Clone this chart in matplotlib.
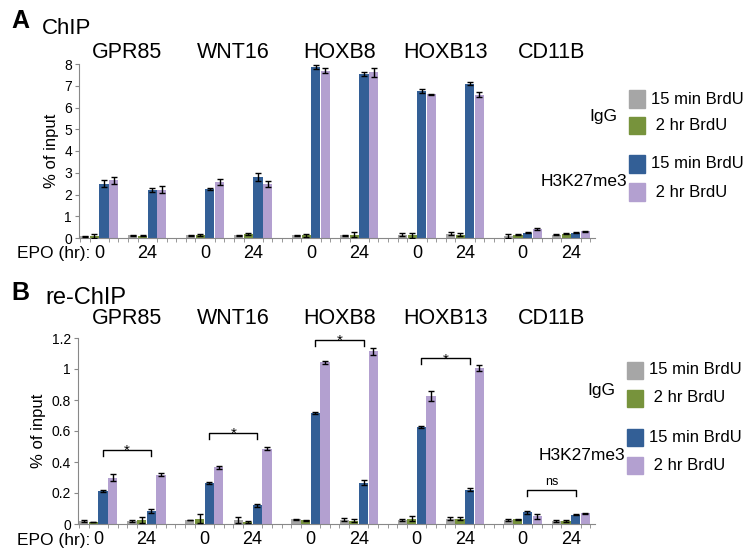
import matplotlib
matplotlib.use('Agg')
import matplotlib.pyplot as plt
from matplotlib.patches import Rectangle

plt.rcParams['font.family'] = ['Liberation Sans', 'DejaVu Sans']

genes = ['GPR85', 'WNT16', 'HOXB8', 'HOXB13', 'CD11B']
epo_labels = ['0', '24']
series_names = ['15 min BrdU', ' 2 hr BrdU', '15 min BrdU', ' 2 hr BrdU']
colors = ['#a6a6a6', '#77933c', '#335f96', '#b3a0d0']

# panel A (ChIP), order: GPR85 0, GPR85 24, WNT16 0, WNT16 24, ...
chip_igg_15 = [0.07, 0.12, 0.12, 0.12, 0.12, 0.12, 0.15, 0.2, 0.1, 0.15]
chip_igg_2 = [0.1, 0.1, 0.15, 0.18, 0.12, 0.15, 0.12, 0.15, 0.15, 0.2]
chip_k27_15 = [2.5, 2.2, 2.25, 2.8, 7.85, 7.55, 6.75, 7.1, 0.25, 0.25]
chip_k27_2 = [2.65, 2.22, 2.58, 2.48, 7.7, 7.62, 6.6, 6.58, 0.42, 0.3]
chip_igg_15_err = [0.01, 0.02, 0.02, 0.02, 0.02, 0.02, 0.08, 0.06, 0.1, 0.02]
chip_igg_2_err = [0.1, 0.02, 0.05, 0.03, 0.08, 0.12, 0.12, 0.06, 0.02, 0.02]
chip_k27_15_err = [0.15, 0.08, 0.06, 0.18, 0.1, 0.1, 0.08, 0.06, 0.02, 0.02]
chip_k27_2_err = [0.15, 0.15, 0.15, 0.14, 0.12, 0.2, 0.02, 0.12, 0.05, 0.02]

# panel B (re-ChIP)
rechip_igg_15 = [0.018, 0.018, 0.025, 0.025, 0.03, 0.028, 0.025, 0.035, 0.025, 0.02]
rechip_igg_2 = [0.012, 0.025, 0.035, 0.015, 0.025, 0.022, 0.035, 0.035, 0.03, 0.02]
rechip_k27_15 = [0.213, 0.082, 0.263, 0.12, 0.715, 0.267, 0.625, 0.222, 0.075, 0.06]
rechip_k27_2 = [0.3, 0.317, 0.366, 0.485, 1.043, 1.115, 0.825, 1.005, 0.05, 0.068]
rechip_igg_15_err = [0.008, 0.008, 0.002, 0.02, 0.005, 0.008, 0.008, 0.01, 0.008, 0.006]
rechip_igg_2_err = [0.002, 0.02, 0.03, 0.006, 0.004, 0.012, 0.015, 0.012, 0.002, 0.006]
rechip_k27_15_err = [0.005, 0.012, 0.008, 0.01, 0.006, 0.015, 0.006, 0.008, 0.012, 0.002]
rechip_k27_2_err = [0.02, 0.01, 0.01, 0.01, 0.01, 0.022, 0.03, 0.02, 0.015, 0.003]

bracket_heights = [0.48, 0.59, 1.19, 1.07, 0.22]
bracket_labels = ['*', '*', '*', '*', 'ns']

W, H = 754, 556
fig = plt.figure(figsize=(W / 100, H / 100), dpi=100)


def fx(px):
    return px / W


def fy(py):
    return 1 - py / H


def group_start(k):
    return (k // 2) * 11 + (k % 2) * 5


def draw_panel(rect, vals, errs, ymax, yticks, yticklabels):
    ax = fig.add_axes(rect)
    for j in range(4):
        xs = [group_start(k) + j + 0.5 for k in range(10)]
        ax.bar(xs, vals[j], width=0.95, color=colors[j], zorder=2)
        ax.errorbar(xs, vals[j], yerr=errs[j], fmt='none', ecolor='black',
                    elinewidth=1, capsize=2.5, capthick=1, zorder=3)
    ax.set_xlim(-0.1, 53.5)
    ax.set_ylim(0, ymax)
    ax.set_yticks(yticks)
    ax.set_yticklabels(yticklabels, fontsize=10)
    ax.set_xticks([group_start(k) + 2 for k in range(10)])
    ax.set_xticklabels(epo_labels * 5, fontsize=13)
    ax.set_xticks(range(0, 54), minor=True)
    ax.tick_params(axis='x', which='major', length=0, pad=5)
    ax.tick_params(axis='x', which='minor', length=3, color='#888888')
    ax.tick_params(axis='y', length=3, color='#888888', pad=2)
    for s in ['top', 'right']:
        ax.spines[s].set_visible(False)
    for s in ['left', 'bottom']:
        ax.spines[s].set_color('#888888')
    ax.set_ylabel('% of input', fontsize=12, labelpad=4)
    return ax


def draw_legend(ys, igg_y, k27_y, box_x, text_x):
    for j in range(4):
        fig.add_artist(Rectangle((fx(box_x), fy(ys[j] + 8.5)), fx(16), 17 / H,
                                 transform=fig.transFigure, color=colors[j]))
        fig.text(fx(text_x), fy(ys[j]), series_names[j], fontsize=12, va='center')
    fig.text(fx(box_x - 12), fy(igg_y), 'IgG', fontsize=12.5, va='center', ha='right')
    fig.text(fx(box_x - 2), fy(k27_y), 'H3K27me3', fontsize=12.5, va='center', ha='right')


# Panel A
axA = draw_panel([fx(79), fy(238), fx(516), (238 - 64) / H],
                 [chip_igg_15, chip_igg_2, chip_k27_15, chip_k27_2],
                 [chip_igg_15_err, chip_igg_2_err, chip_k27_15_err, chip_k27_2_err],
                 8, range(0, 9), [str(i) for i in range(0, 9)])
for g, name in enumerate(genes):
    fig.text(fx(80 + (g * 11 + 4.5) * 9.64 + 4), fy(52), name, fontsize=15.5, ha='center', va='center')
fig.text(fx(11), fy(21), 'A', fontsize=18, fontweight='bold', va='center')
fig.text(fx(42), fy(28), 'ChIP', fontsize=16, va='center')
fig.text(fx(17), fy(253), 'EPO (hr):', fontsize=12.5, va='center')
draw_legend([99, 126, 164, 192], 117, 182, 629, 651)

# Panel B
axB = draw_panel([fx(78), fy(524), fx(517), (524 - 338) / H],
                 [rechip_igg_15, rechip_igg_2, rechip_k27_15, rechip_k27_2],
                 [rechip_igg_15_err, rechip_igg_2_err, rechip_k27_15_err, rechip_k27_2_err],
                 1.2, [0, 0.2, 0.4, 0.6, 0.8, 1.0, 1.2], ['0', '0.2', '0.4', '0.6', '0.8', '1', '1.2'])
for g, name in enumerate(genes):
    fig.text(fx(80 + (g * 11 + 4.5) * 9.64 + 4), fy(319), name, fontsize=15.5, ha='center', va='center')
    x0 = group_start(2 * g) + 2.5
    x1 = group_start(2 * g + 1) + 2.5
    h = bracket_heights[g]
    axB.plot([x0, x0, x1, x1], [h - 0.04, h, h, h - 0.04], color='black', lw=1, clip_on=False)
    if bracket_labels[g] == '*':
        axB.text((x0 + x1) / 2, h - 0.035, '*', ha='center', va='baseline', fontsize=11)
    else:
        axB.text((x0 + x1) / 2, h + 0.01, 'ns', ha='center', va='bottom', fontsize=9)
fig.text(fx(11), fy(293), 'B', fontsize=18, fontweight='bold', va='center')
fig.text(fx(45), fy(298), 're-ChIP', fontsize=17, va='center')
fig.text(fx(17), fy(540), 'EPO (hr):', fontsize=12.5, va='center')
draw_legend([370, 398, 437, 465], 390, 455, 627, 649)

fig.savefig('out.png', dpi=100)
